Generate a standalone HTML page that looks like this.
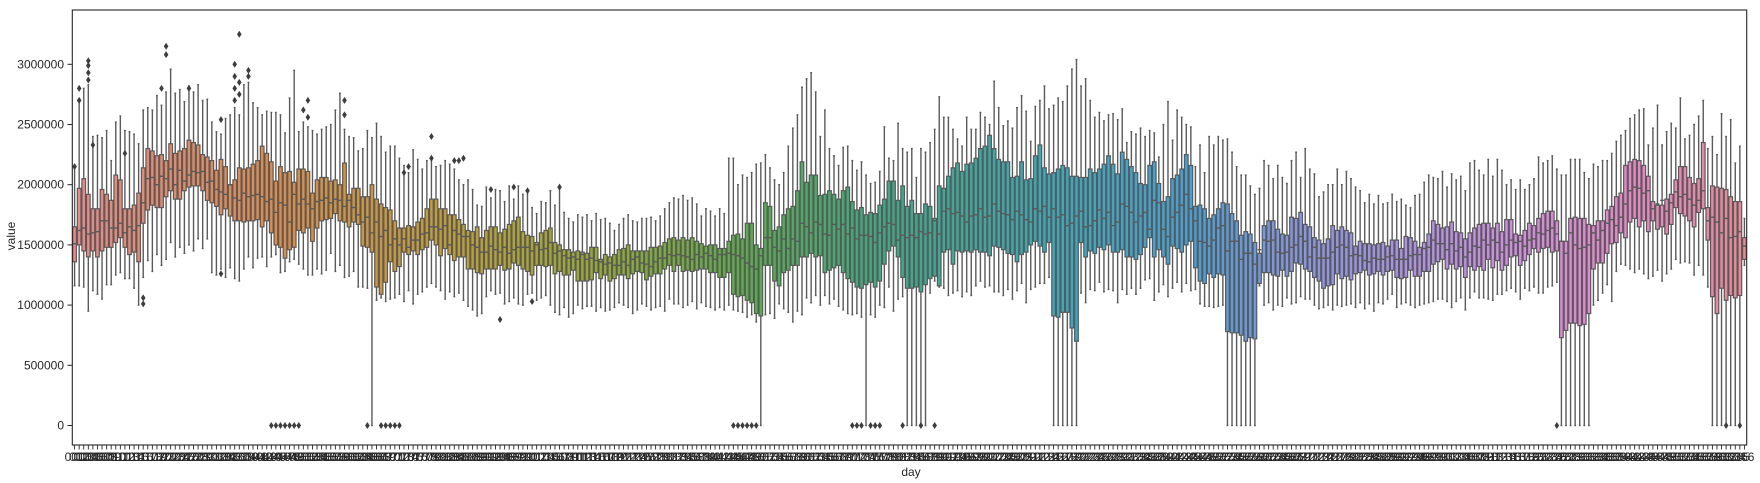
<!DOCTYPE html>
<html><head><meta charset="utf-8"><title>value by day</title>
<style>
html,body{margin:0;padding:0;background:#fff;}
svg{display:block;font-family:"Liberation Sans","DejaVu Sans",sans-serif;}
</style></head>
<body>
<svg id="chart" width="1760" height="483" viewBox="0 0 1760 483" xmlns="http://www.w3.org/2000/svg">
  <rect x="0" y="0" width="1760" height="483" fill="#fff"/>
  <g id="marks"></g>
  <g id="yaxis"></g>
  <g id="xaxis"></g>
  <rect x="72.3" y="10" width="1674.4" height="435" fill="none" stroke="#262626" stroke-width="1.1"/>
  <text x="911" y="476" font-size="12" text-anchor="middle" fill="#262626">day</text>
  <text x="15" y="236" font-size="12" text-anchor="middle" fill="#262626" transform="rotate(-90 15 236)">value</text>
</svg>
<script>
// values in thousands
const med = [
1510,1620,1640,1590,1600, 1610,1700,1700,1640,1640, 1680,1600,1650,1620,1660, 1850,2050,2060,2000,2070,
2050,2130,2000,2120,2030, 2080,2110,2100,2110,2020, 2030,1960,1940,1920,2000, 1890,1870,1930,1900,1910,
1920,1900,1860,1880,1770, 1850,1830,1690,1920,1840, 1880,1840,1800,1860,1870, 1890,1850,1880,1870,1820,
1870,1810,1750,1690,1730, 1600,1690,1570,1620,1500, 1550,1500,1550,1480,1540, 1540,1590,1600,1650,1650,
1630,1660,1500,1620,1590, 1570,1570,1500,1480,1440, 1440,1490,1460,1440,1480, 1430,1460,1480,1480,1480,
1450,1500,1460,1470,1520, 1430,1450,1410,1390,1400, 1380,1420,1380,1390,1370, 1360,1340,1350,1330,1330,
1360,1330,1380,1400,1350, 1340,1320,1360,1390,1390, 1420,1410,1420,1410,1400, 1380,1420,1400,1430,1410,
1380,1420,1420,1430,1420, 1410,1390,1350,1320,1300, 1410,1560,1560,1480,1450, 1550,1470,1550,1530,1680,
1650,1600,1690,1670,1590, 1580,1670,1630,1670,1590, 1640,1550,1580,1580,1570, 1520,1600,1650,1680,1670,
1540,1580,1560,1580,1560, 1610,1590,1600,1700,1590, 1780,1800,1760,1770,1740, 1690,1740,1750,1800,1730,
1740,1840,1780,1760,1750, 1710,1780,1750,1710,1690, 1800,1780,1820,1730,1800, 1730,1750,1660,1680,1740,
1780,1650,1660,1700,1790, 1720,1770,1660,1690,1840, 1820,1770,1690,1740,1770, 1630,1870,1850,1630,1570,
1730,1770,1830,1920,1800, 1700,1530,1520,1490,1540, 1640,1660,1450,1530,1530, 1380,1430,1430,1340,1460,
1540,1530,1540,1440,1430, 1440,1480,1500,1570,1530, 1400,1480,1390,1390,1390, 1440,1480,1500,1480,1410,
1420,1410,1370,1360,1390, 1380,1380,1400,1410,1380, 1380,1380,1410,1420,1420, 1470,1480,1540,1510,1510,
1460,1510,1450,1480,1400, 1440,1490,1480,1540,1500, 1540,1520,1440,1500,1540, 1520,1530,1490,1540,1550,
1600,1590,1620,1640,1590, 1530,1430,1600,1500,1470, 1480,1500,1600,1540,1620, 1680,1710,1660,1730,1840,
1950,1980,1970,1930,1950, 1800,1840,1870,1780,1850, 1940,1900,1920,1880,1830, 1870,1950,1700,1730,1690,
1600,1720,1560,1570,1610, 1490];
const q1 = [
1360,1500,1450,1400,1450, 1400,1450,1480,1480,1520, 1560,1480,1420,1440,1360, 1680,1790,1830,1810,1810,
1900,1950,1880,1880,1950, 1980,1990,1990,1950,1870, 1850,1820,1750,1800,1740, 1700,1700,1690,1700,1700,
1710,1650,1700,1600,1500, 1480,1390,1460,1480,1620, 1600,1640,1530,1640,1700, 1710,1720,1760,1700,1690,
1650,1690,1670,1490,1480, 1440,1150,1090,1190,1360, 1280,1320,1440,1420,1450, 1420,1460,1480,1540,1500,
1410,1470,1420,1370,1400, 1400,1300,1300,1270,1260, 1300,1300,1300,1330,1290, 1300,1350,1330,1300,1280,
1250,1330,1330,1320,1330, 1260,1280,1250,1250,1290, 1200,1200,1200,1210,1270, 1220,1250,1200,1220,1250,
1250,1220,1260,1280,1270, 1210,1240,1260,1260,1300, 1330,1280,1330,1280,1290, 1280,1290,1300,1300,1270,
1270,1230,1230,1270,1090, 1070,1080,1040,1020,930, 910,1330,1330,1200,1160, 1270,1290,1330,1330,1400,
1400,1430,1400,1410,1270, 1290,1310,1330,1270,1220, 1190,1150,1140,1170,1190, 1150,1200,1340,1450,1490,
1400,1230,1140,1140,1150, 1110,1170,1220,1240,1160, 1440,1460,1340,1450,1440, 1450,1440,1460,1440,1440,
1410,1490,1480,1460,1430, 1420,1360,1420,1440,1500, 1530,1490,1440,1520,910, 900,940,940,810,700,
1520,1400,1450,1430,1480, 1460,1500,1440,1440,1460, 1400,1400,1380,1420,1480, 1560,1400,1460,1400,1340,
1490,1470,1440,1500,1530, 1310,1200,1180,1260,1230, 1260,1250,780,770,770, 750,700,730,720,1180,
1270,1270,1250,1240,1290, 1240,1280,1350,1340,1300, 1280,1230,1200,1140,1160, 1170,1260,1220,1240,1210,
1260,1270,1290,1250,1260, 1280,1250,1280,1290,1230, 1220,1230,1290,1240,1240, 1280,1280,1340,1360,1380,
1300,1340,1300,1320,1230, 1320,1290,1320,1290,1380, 1310,1370,1290,1330,1400, 1410,1330,1370,1420,1470,
1440,1470,1480,1440,1450, 730,790,850,850,830, 840,930,1300,1350,1350, 1430,1510,1520,1600,1560,
1690,1720,1650,1700,1610, 1700,1630,1650,1590,1670, 1810,1760,1740,1700,1650, 1770,1800,1540,1070,930,
1140,1040,1080,1060,1080, 1380];
const q3 = [
1650,1970,2050,1920,1800, 1800,1960,1920,1870,2080, 2040,1800,1800,1830,1930, 2140,2300,2280,2240,2250,
2200,2340,2260,2280,2300, 2370,2350,2330,2250,2230, 2200,2120,2210,2150,2000, 2040,2140,2130,2140,2170,
2200,2320,2260,2190,2030, 2150,2100,2110,2020,2130, 2130,2110,1930,2040,2060, 2060,2030,2040,2000,2180,
1920,1970,1970,1900,1900, 2000,1880,1840,1810,1790, 1700,1640,1640,1660,1650, 1690,1720,1800,1880,1880,
1800,1800,1750,1750,1710, 1670,1620,1610,1650,1560, 1620,1650,1650,1600,1630, 1670,1700,1730,1610,1580,
1570,1520,1600,1620,1640, 1520,1500,1460,1460,1440, 1450,1440,1430,1480,1480, 1380,1420,1400,1420,1460,
1470,1500,1450,1450,1450, 1450,1480,1480,1490,1520, 1550,1560,1540,1560,1540, 1560,1530,1510,1490,1500,
1500,1470,1470,1530,1580, 1590,1550,1680,1680,1500, 1470,1850,1820,1620,1650, 1750,1800,1820,1950,2190,
2020,2080,2080,1910,1920, 1950,1920,1880,1950,1980, 1860,1790,1810,1750,1770, 1760,1830,1880,2030,2030,
1870,1990,1820,1870,1760, 1760,1840,1820,1720,1990, 1970,2070,2140,2180,2110, 2170,2180,2220,2300,2320,
2410,2300,2210,2190,2190, 2060,2070,2190,2040,2050, 2240,2330,2140,2090,2100, 2130,2160,2140,2070,2070,
2060,2060,2130,2100,2130, 2170,2240,2170,2090,2270, 2210,2150,2100,2010,2000, 2160,2190,2010,1860,1900,
2050,2080,2130,2250,2160, 1820,1830,1800,1720,1750, 1800,1850,1840,1760,1700, 1580,1610,1590,1520,1430,
1660,1700,1700,1630,1590, 1580,1730,1720,1770,1670, 1650,1560,1540,1510,1550, 1660,1620,1650,1620,1600,
1490,1530,1510,1510,1500, 1510,1520,1490,1540,1540, 1470,1570,1560,1530,1480, 1520,1590,1700,1670,1640,
1650,1690,1610,1600,1550, 1600,1640,1670,1680,1680, 1640,1680,1610,1710,1710, 1590,1580,1620,1680,1660,
1720,1760,1780,1780,1700, 1530,1530,1720,1730,1720, 1720,1670,1660,1700,1700, 1790,1820,1900,1930,2160,
2190,2210,2200,2160,2070, 1860,1830,1830,1880,1920, 2040,2150,2150,2060,2010, 2050,2350,1810,1990,1980,
1970,1960,1900,1860,1860, 1560];
const lo = [
1160,1160,1150,950,1120, 1090,1050,1170,1170,1250, 1270,1220,1220,1140,1000, 1230,1370,1280,1420,1330,
1380,1520,1400,1480,1430, 1500,1450,1550,1470,1550, 1270,1250,1300,1230,1310, 1220,1200,1300,1400,1310,
1390,1400,1320,1400,1420, 1270,1280,1360,1380,1340, 1300,1250,1250,1300,1260, 1290,1430,1280,1330,1230,
1240,1280,1150,1150,1140, 0,1040,1060,1030,1050, 1060,1090,1030,1120,1010, 1090,1110,1150,1180,1150,
1120,1050,1110,1070,1100, 1040,990,960,910,930, 1070,1120,1090,1100,1010, 1030,1060,1010,1000,1090,
1100,1040,1060,1080,1000, 940,920,980,900,930, 1000,970,990,990,950, 980,950,960,980,1020,
1000,980,930,960,1010, 990,960,980,990,950, 1050,1010,1010,980,1000, 1030,970,1020,990,980,
960,980,960,1000,960, 950,940,900,920,860, 0,920,930,890,1010, 970,940,860,950,920,
1060,1020,1080,1000,1080, 1010,1050,990,960,930, 920,930,900,0,920, 900,1000,980,1150,950,
1050,1070,0,0,0, 0,0,1100,1200,1150, 1140,1080,1100,1120,1070, 1110,1080,1160,1200,1150,
1160,1110,1110,1080,1130, 1050,1120,1180,1020,1130, 1150,1180,1180,1230,0, 0,0,0,0,0,
1100,1020,1130,1120,1190, 1110,1130,1120,1020,1130, 1090,1140,1090,1140,1210, 1220,1040,1110,1170,1070,
1140,1190,1110,1180,1120, 1130,1010,990,990,980, 990,1000,0,0,0, 0,0,0,0,1160,
1000,1020,960,1000,990, 1060,1010,1020,1070,1050, 1050,1000,970,980,1000, 960,1000,990,1000,1010,
980,1020,970,1010,950, 1020,1010,1050,1090,980, 1010,1020,1000,980,1000, 1010,1020,1030,1050,1050,
1030,980,1030,1060,960, 1060,1110,1060,1060,1050, 1040,1090,1090,1120,1140, 1110,1050,1140,1120,1150,
1100,1100,1150,1160,1190, 0,0,0,0,0, 0,0,1000,1040,1100, 1170,1030,1280,1340,1330,
1300,1270,1300,1260,1220, 1240,1290,1200,1260,1300, 1380,1350,1360,1350,1250, 1330,1250,1150,0,0,
0,0,0,0,0, 1330];
const hi = [
2150,2700,2800,2830,2400, 2410,2390,2450,2200,2520, 2570,2450,2440,2420,2340, 2620,2640,2620,2740,2660,
2770,2960,2760,2790,2690, 2820,2770,2830,2700,2710, 2520,2440,2420,2550,2580, 2640,2580,2830,2850,2680,
2640,2580,2610,2600,2600, 2580,2430,2720,2950,2440, 2520,2480,2450,2420,2460, 2480,2500,2620,2760,2460,
2400,2390,2280,2300,2450, 2390,2510,2400,2270,2320, 2320,2220,2160,2100,2290, 2210,2130,2200,2210,2150,
2160,2200,2170,2130,2040, 2000,2040,1960,1830,1820, 1980,1890,1960,1950,1860, 1990,1880,1990,1920,1960,
1810,1760,1860,1850,1950, 1830,1970,1770,1720,1690, 1750,1730,1750,1700,1760, 1710,1720,1680,1620,1670,
1720,1750,1700,1690,1720, 1720,1730,1700,1740,1800, 1850,1890,1880,1910,1870, 1890,1840,1740,1800,1780,
1740,1800,1760,2220,2220, 2000,2080,2060,2100,2170, 2180,2250,2140,2040,2000, 2100,2320,2470,2580,2810,
2880,2930,2770,2400,2620, 2300,2240,2160,2310,2320, 2200,2120,2190,2080,2010, 2020,2110,2480,2220,2200,
2510,2300,2270,2300,2060, 2300,2270,2350,2460,2730, 2560,2560,2460,2380,2320, 2560,2460,2460,2600,2560,
2500,2860,2640,2490,2530, 2470,2640,2740,2610,2360, 2650,2700,2820,2630,2660, 2720,2690,2820,2960,3040,
2820,2880,2700,2560,2600, 2530,2580,2590,2540,2630, 2350,2440,2420,2470,2400, 2450,2430,2230,2500,2690,
2370,2620,2560,2500,2480, 2150,2330,2100,2400,2330, 2400,2370,2380,2270,2150, 2080,2080,1990,1920,1970,
2200,2160,2050,2160,2060, 2010,2200,2270,2060,2300, 2130,2090,1900,1940,2000, 2000,2130,2000,2110,2050,
1980,1950,1850,1920,1840, 1910,1840,1850,1920,1860, 1880,1830,1810,1910,1920, 2020,2080,2060,2050,2110,
1980,2090,2040,2070,1950, 2180,2200,2120,2080,2210, 2070,2210,2120,2000,2040, 1960,2040,1960,2000,2050,
2230,2180,2200,2240,2130, 2080,2080,2210,2210,2210, 2100,2050,2170,2150,2200, 2200,2260,2360,2410,2450,
2550,2580,2620,2630,2330, 2470,2660,2330,2440,2510, 2470,2720,2380,2410,2500, 2570,2700,2300,2400,2250,
2590,2400,2540,2180,2320, 1720];
// outliers: day indices and values (thousands)
const outDays = [0,1,1,3,3,3,3,4,11,15,15,19,20,20,25,32,32,35,35,35,35,36,36,36,38,38,50,51,51,59,59,72,73,78,78,83,84,85,91,93,96,99,100,106,
 43,44,45,46,47,48,49,64,67,68,69,70,71,144,145,146,147,148,149,170,171,172,174,175,176,181,185,188,324,361,364];
const outVals = [2150,2700,2800,2870,2930,2990,3030,2330,2260,1010,1060,2800,3080,3150,2800,2540,1260,2700,2800,2900,3000,2750,2850,3250,2900,2950,2620,2560,2700,2700,2580,2100,2150,2220,2400,2200,2200,2220,1960,880,1980,1950,1030,1980,
 0,0,0,0,0,0,0,0,0,0,0,0,0,0,0,0,0,0,0,0,0,0,0,0,0,0,0,0,0,0,0];
const yTicks = [0,500,1000,1500,2000,2500,3000];
const yTickLabels = ["0","500000","1000000","1500000","2000000","2500000","3000000"];
const nDays = med.length;
const dayLabels = Array.from({length:nDays},(_,i)=>String(i+1).padStart(3,"0"));

const X0=72.3, X1=1746.7, Y0=425.5, PX_PER_K=60.2/500;
const step=(X1-X0)/nDays;
function xScale(i){return X0+step*(i+0.5);}
function yScale(v){return Y0-v*PX_PER_K;}
const NS="http://www.w3.org/2000/svg";
function mk(tag,attrs,parent){const e=document.createElementNS(NS,tag);for(const k in attrs)e.setAttribute(k,attrs[k]);parent.appendChild(e);return e;}

const stops=[[0,[232,138,138]],[45,[222,140,70]],[85,[190,160,50]],[115,[150,170,50]],[145,[90,175,70]],[175,[60,170,130]],[215,[55,170,190]],[245,[70,160,215]],[265,[130,150,225]],[290,[170,145,230]],[315,[210,140,225]],[340,[230,135,200]],[365,[232,138,150]]];
function color(i){for(let s=0;s<stops.length-1;s++){const a=stops[s],b=stops[s+1];if(i<=b[0]){const t=(i-a[0])/(b[0]-a[0]);const c=a[1].map((v,k)=>Math.round(v+(b[1][k]-v)*t));return `rgb(${c[0]},${c[1]},${c[2]})`;}}return "rgb(232,138,150)";}

const marks=document.getElementById('marks');
const bw=step*0.8, LC="#5a5a5a";
for(let i=0;i<nDays;i++){
  const g=mk('g',{},marks);
  
  
  const cx=xScale(i);
  const w1=mk('line',{x1:cx,x2:cx,y1:yScale(q3[i]),y2:yScale(hi[i]),stroke:LC,'stroke-width':1.4},g);
  
  
  const w2=mk('line',{x1:cx,x2:cx,y1:yScale(q1[i]),y2:yScale(lo[i]),stroke:LC,'stroke-width':1.4},g);
  
  
  const c1=mk('line',{x1:cx-bw/4,x2:cx+bw/4,y1:yScale(hi[i]),y2:yScale(hi[i]),stroke:LC,'stroke-width':1.4},g);
  
  
  const c2=mk('line',{x1:cx-bw/4,x2:cx+bw/4,y1:yScale(lo[i]),y2:yScale(lo[i]),stroke:LC,'stroke-width':1.4},g);
  
  
  const r=mk('rect',{x:cx-bw/2,y:yScale(q3[i]),width:bw,height:Math.max(0.5,yScale(q1[i])-yScale(q3[i])),fill:color(i),stroke:LC,'stroke-width':1.2},g);
  
  
  const m=mk('line',{x1:cx-bw/2,x2:cx+bw/2,y1:yScale(med[i]),y2:yScale(med[i]),stroke:LC,'stroke-width':1.4},g);
  
  
}
for(let k=0;k<outDays.length;k++){
  const cx=xScale(outDays[k]), cy=yScale(outVals[k]);
  const p=mk('path',{d:`M${cx} ${cy-3.5}L${cx+2.3} ${cy}L${cx} ${cy+3.5}L${cx-2.3} ${cy}Z`,fill:"#3d3d3d"},marks);
  
  
}
const yaxis=document.getElementById('yaxis');
for(let k=0;k<yTicks.length;k++){
  const y=yScale(yTicks[k]);
  const t=mk('line',{x1:67.5,x2:72.3,y1:y,y2:y,stroke:"#262626",'stroke-width':1},yaxis);
  
  
  const l=mk('text',{x:64,y:y+4,'font-size':12,'text-anchor':'end',fill:'#262626'},yaxis);
  l.textContent=yTickLabels[k];
  
  
}
const xaxis=document.getElementById('xaxis');
for(let i=0;i<nDays;i++){
  const x=xScale(i);
  const t=mk('line',{x1:x,x2:x,y1:445,y2:449.5,stroke:"#262626",'stroke-width':0.9},xaxis);
  
  
  const l=mk('text',{x:x,y:461,'font-size':12,'text-anchor':'middle',fill:'#262626'},xaxis);
  l.textContent=dayLabels[i];
  
  
}
</script>
</body></html>
